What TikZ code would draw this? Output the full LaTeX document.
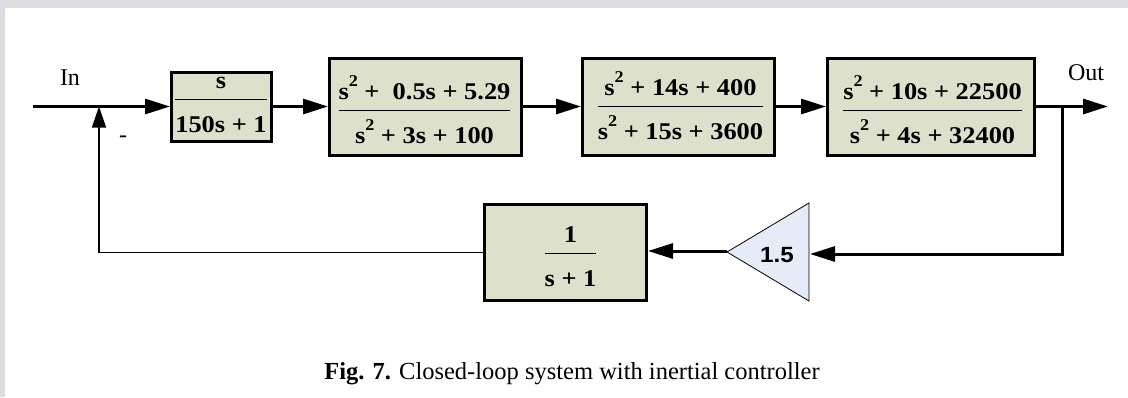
\documentclass[tikz,border=0pt]{standalone}
\usepackage{fontspec}
\usepackage{graphicx}
\setmainfont{Liberation Serif}
\newfontfamily\gainfont{Liberation Sans}
\usetikzlibrary{arrows.meta}

\definecolor{pagegrey}{RGB}{220,221,224}
\definecolor{blkfill}{RGB}{221,224,203}
\definecolor{gainfill}{RGB}{229,235,247}

\newcommand\sqr{\raisebox{12.5pt}{\fontsize{16.5}{17}\selectfont 2}}
\newcommand\blkfrac[2]{\scalebox{1.1}[1]{\setlength\arrayrulewidth{1.8pt}\setlength\tabcolsep{0pt}\begin{tabular}[t]{c}\rule[-10.5pt]{0pt}{10.5pt}#1\\\hline\rule{0pt}{32pt}#2\end{tabular}}}

\tikzset{
  blk/.style={draw, line width=3pt, fill=blkfill, inner sep=0pt, outer sep=1.5pt},
  blktext/.style={anchor=base, inner sep=0pt, outer sep=0pt, font=\fontsize{24}{28}\selectfont\bfseries},
  lbl/.style={anchor=base, inner sep=0pt, outer sep=0pt, font=\fontsize{24}{28}\selectfont},
  sig/.style={line width=3pt, -{Triangle[length=25pt,width=15pt]}},
  thinsig/.style={line width=1.6pt, -{Triangle[length=21pt,width=14pt]}},
  gainshape/.style={line width=0.8pt, fill=gainfill, line join=miter},
}

\begin{document}
\begin{tikzpicture}[x=1pt,y=-1pt]
\fill[pagegrey] (0,0) rectangle (1128,397);
\fill[white] (5,8) rectangle (1128,397);
\useasboundingbox (0,0) rectangle (1128,397);

% blocks
\node[blk, minimum width=100pt, minimum height=69pt] (b1) at (221.5,106.5) {};
\node[blk, minimum width=192pt, minimum height=97pt] (b2) at (425.5,106.5) {};
\node[blk, minimum width=192pt, minimum height=97pt] (b3) at (678.5,106.5) {};
\node[blk, minimum width=207pt, minimum height=97pt] (b4) at (931,106.5) {};
\node[blk, minimum width=162pt, minimum height=96pt] (b5) at (565.5,252.5) {};

% block texts
\node[blktext] (t1) at (221,88) {\blkfrac{s}{150s + 1}};
\node[blktext] (t2) at (424.5,99) {\blkfrac{s\sqr{} +\ \ 0.5s + 5.29}{s\sqr{} + 3s + 100}};
\node[blktext] (t3) at (680.5,95) {\blkfrac{s\sqr{} + 14s + 400}{s\sqr{} + 15s + 3600}};
\node[blktext] (t4) at (932.5,99) {\blkfrac{s\sqr{} + 10s + 22500}{s\sqr{} + 4s + 32400}};
\node[blktext] (t5) at (570.5,242) {\blkfrac{1}{s + 1}};

% gain
\draw[gainshape] (727,252) -- (809,203) -- (809,301) -- cycle;
\node[font=\gainfont\bfseries\fontsize{22}{24}\selectfont, inner sep=0pt] (g) at (777,255.5) {\scalebox{1.1}[1]{1.5}};

% coordinates
\coordinate (in) at (33,106.5);
\coordinate (sum) at (99,106.5);
\coordinate (br) at (1062,106.5);
\coordinate (out) at (1108,106.5);
\coordinate (gin) at (810,254);
\coordinate (gout) at (727,251);

% connectors
\draw[sig] (in) -- (b1.west);
\draw[sig] (b1) -- (b2);
\draw[sig] (b2) -- (b3);
\draw[sig] (b3) -- (b4);
\draw[sig] (b4) -- (out);
\draw[sig] (br) |- (gin);
\draw[sig] (gout) -- (gout -| b5.east);
\draw[thinsig] (b5.west) -| (sum);

% labels
\node[lbl] (inl) at (70,85) {In};
\node[lbl] (outl) at (1086,80) {Out};
\node[font=\fontsize{24}{28}\selectfont, inner sep=0pt] (minus) at (123,139) {-};
\node[lbl, font=\fontsize{24.5}{28}\selectfont] (cap) at (572,379) {\textbf{Fig. 7.} Closed-loop system with inertial controller};
\end{tikzpicture}
\end{document}
